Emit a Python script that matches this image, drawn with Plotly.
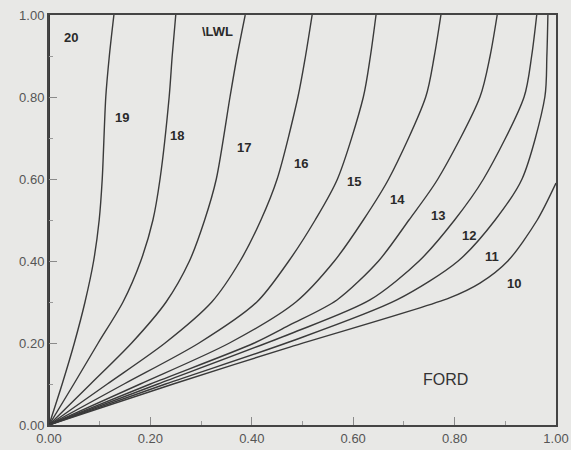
import plotly.graph_objects as go

# ---- data (x = half-breadth fraction, y = height fraction) ----
sections = ["20", "19", "18", "17", "16", "15", "14", "13", "12", "11", "10"]

y_std = [0, 0.1, 0.2, 0.3, 0.4, 0.5, 0.6, 0.8, 0.9, 1.0]

x_20 = [0, 0]
y_20 = [0, 1.0]

x_19 = [0, 0.026, 0.050, 0.071, 0.088, 0.099, 0.105, 0.112, 0.119, 0.128]
y_19 = y_std
x_18 = [0, 0.049, 0.097, 0.146, 0.181, 0.205, 0.219, 0.237, 0.243, 0.250]
y_18 = y_std
x_17 = [0, 0.082, 0.163, 0.231, 0.277, 0.307, 0.330, 0.357, 0.371, 0.387]
y_17 = y_std
x_16 = [0, 0.115, 0.229, 0.321, 0.377, 0.418, 0.450, 0.491, 0.506, 0.519]
y_16 = y_std
x_15 = [0, 0.148, 0.296, 0.410, 0.473, 0.525, 0.569, 0.620, 0.634, 0.645]
y_15 = y_std
x_14 = [0, 0.180, 0.356, 0.487, 0.563, 0.620, 0.670, 0.743, 0.760, 0.773]
y_14 = y_std

x_13 = [0, 0.200, 0.405, 0.475, 0.568, 0.650, 0.710, 0.767, 0.850, 0.870, 0.884]
y_13 = [0, 0.1, 0.2, 0.244, 0.305, 0.4, 0.5, 0.6, 0.8, 0.9, 1.0]
x_12 = [0, 0.215, 0.475, 0.633, 0.730, 0.800, 0.857, 0.937, 0.952, 0.962]
y_12 = [0, 0.1, 0.222, 0.305, 0.4, 0.5, 0.6, 0.8, 0.9, 1.0]
x_11 = [0, 0.230, 0.475, 0.686, 0.807, 0.880, 0.933, 0.978, 0.982, 0.984]
y_11 = [0, 0.1, 0.203, 0.305, 0.4, 0.5, 0.6, 0.8, 0.9, 1.0]
x_10 = [0, 0.245, 0.475, 0.790, 0.850, 0.905, 0.963, 1.0]
y_10 = [0, 0.1, 0.19, 0.31, 0.346, 0.4, 0.5, 0.59]

curves_x = [x_20, x_19, x_18, x_17, x_16, x_15, x_14, x_13, x_12, x_11, x_10]
curves_y = [y_20, y_19, y_18, y_17, y_16, y_15, y_14, y_13, y_12, y_11, y_10]

tick_vals = [0.0, 0.2, 0.4, 0.6, 0.8, 1.0]
tick_text = ["0.00", "0.20", "0.40", "0.60", "0.80", "1.00"]

# label anchor positions (text placement)
label_pos = {
    "20": (0.043, 0.944), "19": (0.144, 0.749), "18": (0.252, 0.707),
    "17": (0.385, 0.676), "16": (0.497, 0.637), "15": (0.602, 0.595),
    "14": (0.688, 0.551), "13": (0.767, 0.510), "12": (0.828, 0.461),
    "11": (0.874, 0.410), "10": (0.917, 0.346),
}

LINE = "#3a3a3a"
BG = "#e8e8e6"
FONT = "Liberation Sans, Arial, sans-serif"

fig = go.Figure()
for name, xs, ys in zip(sections, curves_x, curves_y):
    fig.add_trace(go.Scatter(
        x=xs, y=ys, mode="lines", name=name,
        line=dict(color=LINE, width=2 if name == "20" else 1.4, shape="spline", smoothing=0.8),
        hoverinfo="skip", showlegend=False,
    ))

for name, (lx, ly) in label_pos.items():
    fig.add_annotation(x=lx, y=ly, text="<b>%s</b>" % name, showarrow=False,
                       font=dict(family=FONT, size=13, color="#2a2a2a"))

fig.add_annotation(x=0.333, y=0.959, text="<b>\\LWL</b>", showarrow=False,
                   font=dict(family=FONT, size=13, color="#2a2a2a"))
fig.add_annotation(x=0.783, y=0.112, text="FORD", showarrow=False,
                   font=dict(family=FONT, size=16, color="#333333"))

axis_common = dict(
    range=[0, 1], tickvals=tick_vals, ticktext=tick_text,
    showgrid=False, zeroline=False, showline=True, mirror=True,
    linecolor="#444444", linewidth=2, automargin=False,
    ticks="inside", ticklen=8, tickwidth=1, tickcolor="#8a8a8a",
    tickfont=dict(family=FONT, size=13, color="#555555"),
    minor=dict(ticks="inside", ticklen=4, tickcolor="#9a9a9a", dtick=0.1),
)

fig.update_layout(
    width=571, height=450,
    margin=dict(l=49, r=15, t=15, b=25),
    paper_bgcolor=BG, plot_bgcolor=BG,
    xaxis=dict(**axis_common),
    yaxis=dict(**axis_common),
)

fig.write_html("out.html", config={"displayModeBar": False},
               post_script="document.body.style.margin='0';document.body.style.background='%s';" % BG)
